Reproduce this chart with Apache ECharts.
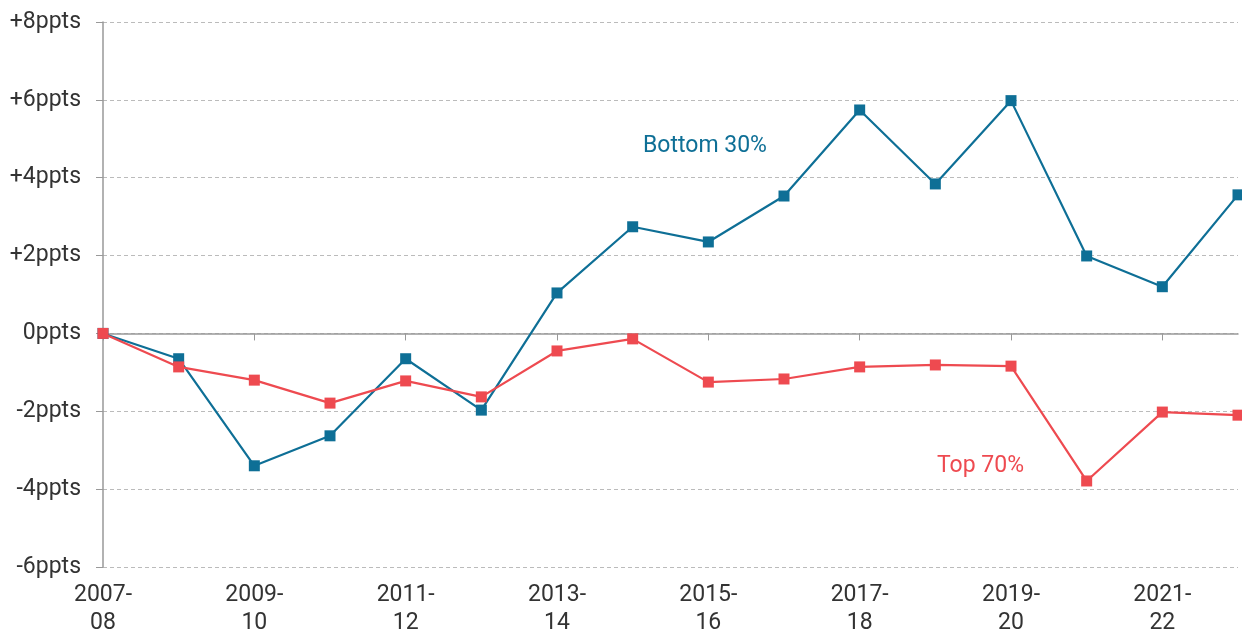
<!DOCTYPE html>
<html>
<head>
<meta charset="utf-8">
<script src="https://cdn.jsdelivr.net/npm/echarts@6/dist/echarts.min.js"></script>
<style>
  html, body { margin: 0; padding: 0; background: #fff; }
  #chart { width: 1242px; height: 637px; }
</style>
</head>
<body>
<div id="chart"></div>
<script>
// data
const years = ['2007-08', '2008-09', '2009-10', '2010-11', '2011-12', '2012-13', '2013-14', '2014-15',
               '2015-16', '2016-17', '2017-18', '2018-19', '2019-20', '2020-21', '2021-22', '2022-23'];
const bottom30 = [0, -0.65, -3.4, -2.63, -0.65, -1.97, 1.04, 2.74, 2.35, 3.53, 5.74, 3.84, 5.98, 1.99, 1.2, 3.56];
const top70 = [0, -0.86, -1.2, -1.79, -1.22, -1.63, -0.45, -0.14, -1.25, -1.17, -0.86, -0.81, -0.84, -3.79, -2.02, -2.1];

const blue = '#0e6f96';
const red = '#ee4a50';
const font = 'Roboto, "Noto Sans", sans-serif';

const chart = echarts.init(document.getElementById('chart'));

chart.setOption({
    animation: false,
    grid: { left: 103, right: 4, top: 22, bottom: 70 },
    xAxis: [
        {
            type: 'category', data: years, boundaryGap: false, position: 'bottom',
            axisLine: { show: false, onZero: false }, axisTick: { show: false },
            axisLabel: {
                interval: 1, color: '#333', fontSize: 23, fontFamily: font, lineHeight: 28, margin: 14,
                formatter: v => v.replace('-', '-\n')
            },
            splitLine: { show: false }
        },
        {
            // solid zero line with its ticks
            type: 'category', data: years, boundaryGap: false, position: 'bottom',
            axisLine: { onZero: true, lineStyle: { color: '#999', width: 1.5 } },
            axisTick: { show: true, interval: 1, length: 7, lineStyle: { color: '#999' } },
            axisLabel: { show: false },
            splitLine: { show: false }
        }
    ],
    yAxis: {
        type: 'value', min: -6, max: 8, interval: 2,
        axisLine: { show: true, lineStyle: { color: '#999', width: 1.5 } },
        axisTick: { show: true, length: 7, lineStyle: { color: '#999' } },
        axisLabel: {
            color: '#333', fontSize: 23, fontFamily: font, margin: 22,
            formatter: v => (v > 0 ? '+' : '') + v + 'ppts'
        },
        splitLine: { lineStyle: { color: '#bbb', type: [4, 3], width: 1 } }
    },
    series: [
        {
            name: 'Bottom 30%', type: 'line', data: bottom30, xAxisIndex: 0,
            symbol: 'rect', symbolSize: 11,
            lineStyle: { color: blue, width: 2.2 }, itemStyle: { color: blue }, z: 3
        },
        {
            name: 'Top 70%', type: 'line', data: top70, xAxisIndex: 0,
            symbol: 'rect', symbolSize: 11,
            lineStyle: { color: red, width: 2.2 }, itemStyle: { color: red }, z: 4
        }
    ],
    graphic: [
        { type: 'text', left: 643, top: 135, style: { text: 'Bottom 30%', fill: blue, font: '23px ' + font } },
        { type: 'text', left: 937, top: 455, style: { text: 'Top 70%', fill: red, font: '23px ' + font } }
    ]
});
</script>
</body>
</html>
